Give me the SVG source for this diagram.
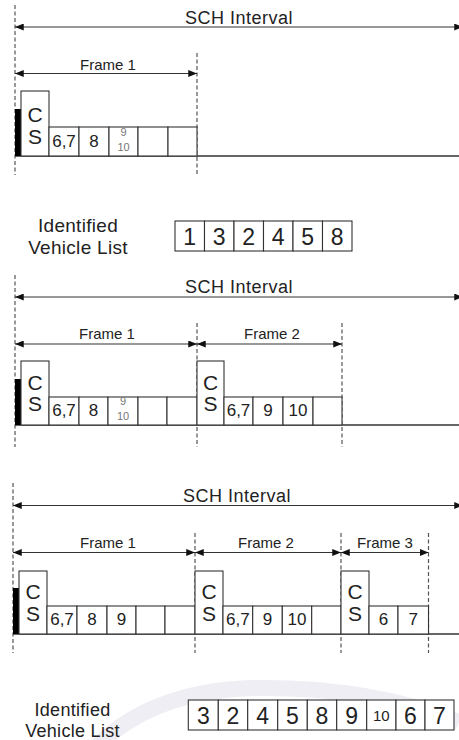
<svg xmlns="http://www.w3.org/2000/svg" width="459" height="740" viewBox="0 0 459 740">
<defs>
<marker id="ah" viewBox="0 0 10 8" refX="10" refY="4" markerWidth="9" markerHeight="7" markerUnits="userSpaceOnUse" orient="auto-start-reverse"><path d="M0,0 L10,4 L0,8 z" fill="#111"/></marker>
<style>
.t{font-family:"Liberation Sans",Arial,sans-serif;fill:#222;text-anchor:middle}
.sch{font-size:18px;letter-spacing:0.5px}
.fr{font-size:15px}
.cs{font-size:21px}
.sl{font-size:17px}
.sm{font-size:11px;fill:#777}
.lb{font-size:19px;letter-spacing:0.3px}
.dg{font-size:23px}
.dash{stroke:#555;stroke-width:1.2;stroke-dasharray:4 2.5;fill:none}
.arr{stroke:#333;stroke-width:1.2;fill:none;marker-start:url(#ah);marker-end:url(#ah)}
.base{stroke:#333;stroke-width:1.3;fill:none}
.box{fill:#fff;stroke:#333;stroke-width:1.1}
.bar{fill:#000}
</style>
</defs>
<rect width="459" height="740" fill="#fff"/>
<path d="M95 748 Q150 692 250 688 Q370 686 459 722" fill="none" stroke="#efeef4" stroke-width="16"/>

<g id="connectors">
<line class="dash" x1="15" y1="5" x2="15" y2="175"/>
<line class="dash" x1="197" y1="53" x2="197" y2="175"/>
<line class="arr" x1="15" y1="27" x2="463" y2="27"/>
<line class="arr" x1="15" y1="73.5" x2="197" y2="73.5"/>
<line class="base" x1="15" y1="156" x2="459" y2="156"/>
<line class="dash" x1="15" y1="275" x2="15" y2="447"/>
<line class="dash" x1="197" y1="323" x2="197" y2="447"/>
<line class="dash" x1="342" y1="323" x2="342" y2="447"/>
<line class="arr" x1="15" y1="297" x2="463" y2="297"/>
<line class="arr" x1="15" y1="344" x2="197" y2="344"/>
<line class="arr" x1="197" y1="344" x2="342" y2="344"/>
<line class="base" x1="15" y1="425" x2="459" y2="425"/>
<line class="dash" x1="13" y1="483" x2="13" y2="653"/>
<line class="dash" x1="195" y1="533" x2="195" y2="653"/>
<line class="dash" x1="341" y1="533" x2="341" y2="653"/>
<line class="dash" x1="428.5" y1="533" x2="428.5" y2="653"/>
<line class="arr" x1="13" y1="505.5" x2="463" y2="505.5"/>
<line class="arr" x1="13" y1="552.5" x2="195" y2="552.5"/>
<line class="arr" x1="195" y1="552.5" x2="341" y2="552.5"/>
<line class="arr" x1="341" y1="552.5" x2="428.5" y2="552.5"/>
<line class="base" x1="13" y1="634" x2="459" y2="634"/>
</g>

<g id="labels">
<text class="t sch" x="239" y="24">SCH Interval</text>
<text class="t fr" x="108" y="70">Frame 1</text>
<text class="t sch" x="239" y="293">SCH Interval</text>
<text class="t fr" x="107" y="339">Frame 1</text>
<text class="t fr" x="272" y="339">Frame 2</text>
<text class="t sch" x="237" y="502">SCH Interval</text>
<text class="t fr" x="108" y="547.5">Frame 1</text>
<text class="t fr" x="266" y="547.5">Frame 2</text>
<text class="t fr" x="385" y="547.5">Frame 3</text>
</g>

<g id="frame1-a">
<rect class="bar" x="15" y="109" width="6" height="47"/>
<rect class="box" x="21" y="91" width="28" height="65"/>
<text class="t cs" x="35" y="122">C</text>
<text class="t cs" x="35" y="144">S</text>
<rect class="box" x="49" y="127" width="30" height="29"/>
<rect class="box" x="79" y="127" width="30" height="29"/>
<rect class="box" x="109" y="127" width="29" height="29"/>
<rect class="box" x="138" y="127" width="30" height="29"/>
<rect class="box" x="168" y="127" width="29" height="29"/>
<text class="t sl" x="64" y="147">6,7</text>
<text class="t sl" x="94" y="147">8</text>
<text class="t sm" x="123.5" y="136">9</text>
<text class="t sm" x="123.5" y="151">10</text>
</g>

<g id="list1">
<text class="t lb" x="78" y="232">Identified</text>
<text class="t lb" x="78" y="254">Vehicle List</text>
<rect class="box" x="175" y="221" width="29.5" height="30"/>
<rect class="box" x="204.5" y="221" width="29.5" height="30"/>
<rect class="box" x="234" y="221" width="29.5" height="30"/>
<rect class="box" x="263.5" y="221" width="29.5" height="30"/>
<rect class="box" x="293" y="221" width="29.5" height="30"/>
<rect class="box" x="322.5" y="221" width="29.5" height="30"/>
<text class="t dg" x="189.75" y="245">1</text>
<text class="t dg" x="219.25" y="245">3</text>
<text class="t dg" x="248.75" y="245">2</text>
<text class="t dg" x="278.25" y="245">4</text>
<text class="t dg" x="307.75" y="245">5</text>
<text class="t dg" x="337.25" y="245">8</text>
</g>

<g id="frame1-b">
<rect class="bar" x="15" y="379" width="6" height="46"/>
<rect class="box" x="21" y="361" width="28" height="64"/>
<text class="t cs" x="35" y="390">C</text>
<text class="t cs" x="35" y="411">S</text>
<rect class="box" x="49" y="397" width="30" height="28"/>
<rect class="box" x="79" y="397" width="29" height="28"/>
<rect class="box" x="108" y="397" width="30" height="28"/>
<rect class="box" x="138" y="397" width="29" height="28"/>
<rect class="box" x="167" y="397" width="30" height="28"/>
<text class="t sl" x="64" y="416">6,7</text>
<text class="t sl" x="93.5" y="416">8</text>
<text class="t sm" x="123" y="405">9</text>
<text class="t sm" x="123" y="420">10</text>
</g>

<g id="frame2-b">
<rect class="box" x="197" y="361" width="27" height="64"/>
<text class="t cs" x="210.5" y="390">C</text>
<text class="t cs" x="210.5" y="411">S</text>
<rect class="box" x="224" y="397" width="29" height="28"/>
<rect class="box" x="253" y="397" width="30" height="28"/>
<rect class="box" x="283" y="397" width="30" height="28"/>
<rect class="box" x="313" y="397" width="29" height="28"/>
<text class="t sl" x="238.5" y="416">6,7</text>
<text class="t sl" x="268" y="416">9</text>
<text class="t sl" x="298" y="416">10</text>
</g>

<g id="frame1-c">
<rect class="bar" x="13" y="588" width="6" height="46"/>
<rect class="box" x="19" y="571" width="28" height="63"/>
<text class="t cs" x="33" y="599">C</text>
<text class="t cs" x="33" y="621">S</text>
<rect class="box" x="47" y="606" width="30" height="28"/>
<rect class="box" x="77" y="606" width="30" height="28"/>
<rect class="box" x="107" y="606" width="29" height="28"/>
<rect class="box" x="136" y="606" width="29" height="28"/>
<rect class="box" x="165" y="606" width="30" height="28"/>
<text class="t sl" x="62" y="625">6,7</text>
<text class="t sl" x="92" y="625">8</text>
<text class="t sl" x="121.5" y="625">9</text>
</g>

<g id="frame2-c">
<rect class="box" x="195" y="571" width="28" height="63"/>
<text class="t cs" x="209" y="599">C</text>
<text class="t cs" x="209" y="621">S</text>
<rect class="box" x="223" y="606" width="29.7" height="28"/>
<rect class="box" x="252.7" y="606" width="29.6" height="28"/>
<rect class="box" x="282.3" y="606" width="29.4" height="28"/>
<rect class="box" x="311.7" y="606" width="29.3" height="28"/>
<text class="t sl" x="237.8" y="625">6,7</text>
<text class="t sl" x="267.5" y="625">9</text>
<text class="t sl" x="297" y="625">10</text>
</g>

<g id="frame3-c">
<rect class="box" x="341" y="571" width="28" height="63"/>
<text class="t cs" x="355" y="599">C</text>
<text class="t cs" x="355" y="621">S</text>
<rect class="box" x="369" y="606" width="29" height="28"/>
<rect class="box" x="398" y="606" width="30.5" height="28"/>
<text class="t sl" x="383.5" y="625">6</text>
<text class="t sl" x="413.2" y="625">7</text>
</g>

<g id="list2">
<text class="t lb" x="72.5" y="716" style="font-size:18px">Identified</text>
<text class="t lb" x="72.5" y="737" style="font-size:18px">Vehicle List</text>
<rect class="box" x="188.3" y="700" width="30" height="30"/>
<rect class="box" x="218.3" y="700" width="29.4" height="30"/>
<rect class="box" x="247.7" y="700" width="30" height="30"/>
<rect class="box" x="277.7" y="700" width="29.6" height="30"/>
<rect class="box" x="307.3" y="700" width="29.4" height="30"/>
<rect class="box" x="336.7" y="700" width="30" height="30"/>
<rect class="box" x="366.7" y="700" width="29.3" height="30"/>
<rect class="box" x="396" y="700" width="29" height="30"/>
<rect class="box" x="425" y="700" width="29" height="30"/>
<text class="t dg" x="203.3" y="724">3</text>
<text class="t dg" x="233" y="724">2</text>
<text class="t dg" x="262.7" y="724">4</text>
<text class="t dg" x="292.5" y="724">5</text>
<text class="t dg" x="322" y="724">8</text>
<text class="t dg" x="351.7" y="724">9</text>
<text class="t" x="381.3" y="721" style="font-size:15px">10</text>
<text class="t dg" x="410.5" y="724">6</text>
<text class="t dg" x="439.5" y="724">7</text>
</g>
</svg>
